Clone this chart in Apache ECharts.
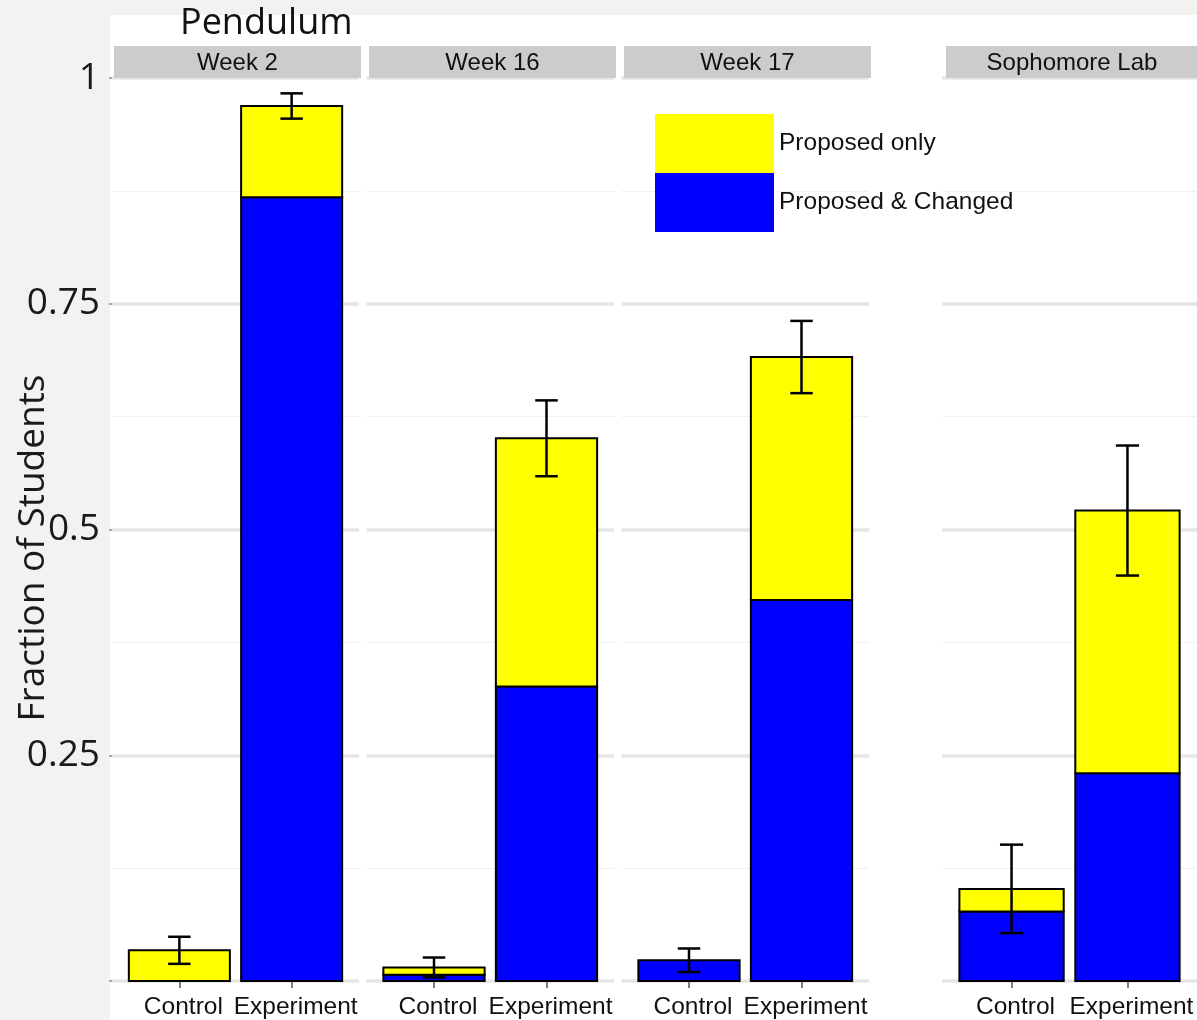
<!DOCTYPE html>
<html>
<head>
<meta charset="utf-8">
<script src="https://cdn.jsdelivr.net/npm/echarts@6/dist/echarts.min.js"></script>
<style>
  html, body { margin: 0; padding: 0; background: #f2f2f1; }
  #chart { width: 1197px; height: 1020px; }
</style>
</head>
<body>
<div id="chart"></div>
<script>
// Facet titles and the two groups in every facet
const panels = ['Week 2', 'Week 16', 'Week 17', 'Sophomore Lab'];
const groups = ['Control', 'Experiment'];

// Fraction of students per facet: [Control, Experiment]
const proposedChanged = [
  [0.000, 0.868],
  [0.007, 0.326],
  [0.023, 0.422],
  [0.077, 0.230]
];
const proposedOnly = [
  [0.034, 0.101],
  [0.008, 0.275],
  [0.000, 0.269],
  [0.025, 0.291]
];
// Half-width of the error bar around the stacked total
const errorHalf = [
  [0.015, 0.014],
  [0.011, 0.042],
  [0.013, 0.040],
  [0.049, 0.072]
];

const yTicks = [0, 0.25, 0.5, 0.75, 1];
const yTickLabels = ['', '0.25', '0.5', '0.75', '1'];

const seriesNames = ['Proposed only', 'Proposed & Changed'];
const YELLOW = '#ffff00';
const BLUE = '#0000ff';

// Facet geometry (pixels)
const gridBoxes = [
  { left: 112, width: 247 },
  { left: 366.5, width: 247.5 },
  { left: 621.5, width: 247.5 },
  { left: 942, width: 255.6 }
];
const stripBoxes = [
  { x: 114, w: 247 },
  { x: 369, w: 247 },
  { x: 624, w: 247 },
  { x: 946, w: 260 }
];
const GRID_TOP = 78, GRID_H = 904;
const BAR_W = 0.9, CAP_W = 0.2;
const TITLE_FONT = '"Open Sans", sans-serif';
const BODY_FONT = '"Liberation Sans", Arial, sans-serif';

const chart = echarts.init(document.getElementById('chart'));

function renderSegment(params, api) {
  const x = api.value(0), y0 = api.value(1), y1 = api.value(2);
  if (!(y1 - y0 > 0)) return;
  const a = api.coord([x - BAR_W / 2, y1]);
  const b = api.coord([x + BAR_W / 2, y0]);
  return {
    type: 'rect',
    shape: { x: a[0], y: a[1], width: b[0] - a[0], height: b[1] - a[1] },
    style: { fill: api.visual('color'), stroke: '#000', lineWidth: 2 }
  };
}

function renderError(params, api) {
  const x = api.value(0), lo = api.value(1), hi = api.value(2);
  const top = api.coord([x, hi]);
  const bot = api.coord([x, lo]);
  const l = api.coord([x - CAP_W / 2, hi])[0];
  const r = api.coord([x + CAP_W / 2, hi])[0];
  const st = { stroke: '#000', lineWidth: 2.5 };
  return {
    type: 'group',
    children: [
      { type: 'line', shape: { x1: top[0], y1: top[1], x2: bot[0], y2: bot[1] }, style: st },
      { type: 'line', shape: { x1: l, y1: top[1], x2: r, y2: top[1] }, style: st },
      { type: 'line', shape: { x1: l, y1: bot[1], x2: r, y2: bot[1] }, style: st }
    ]
  };
}

const grids = [], xAxes = [], yAxes = [], series = [];

panels.forEach((name, p) => {
  grids.push({ left: gridBoxes[p].left, width: gridBoxes[p].width, top: GRID_TOP, height: GRID_H });

  xAxes.push({
    type: 'value', gridIndex: p, min: 0.4, max: 2.6,
    axisLine: { show: false },
    splitLine: { show: false },
    axisTick: { show: true, customValues: [1, 2], length: 7, lineStyle: { color: '#7f7f7f', width: 2 } },
    axisLabel: {
      show: true, customValues: [1, 2], margin: 14,
      padding: [0, 0, 0, 8],
      formatter: v => groups[Math.round(v) - 1] || '',
      fontFamily: BODY_FONT, fontSize: 24.5, color: '#111'
    }
  });

  yAxes.push({
    type: 'value', gridIndex: p, min: 0, max: 1, interval: 0.25,
    axisLine: { show: false },
    axisTick: { show: p === 0, length: 3, lineStyle: { color: '#888', width: 1.5 } },
    axisLabel: {
      show: p === 0, margin: 12,
      formatter: v => yTickLabels[yTicks.indexOf(v)] ?? '',
      fontFamily: TITLE_FONT, fontSize: 37, color: '#1a1a1a'
    },
    splitLine: { show: true, lineStyle: { color: '#e6e6e6', width: 3.5 } },
    minorTick: { show: false, splitNumber: 2 },
    minorSplitLine: { show: true, lineStyle: { color: '#f0f0f0', width: 1 } }
  });

  const blueData = groups.map((g, i) => [i + 1, 0, proposedChanged[p][i]]);
  const yellowData = groups.map((g, i) => [i + 1, proposedChanged[p][i], proposedChanged[p][i] + proposedOnly[p][i]]);
  const errData = groups.map((g, i) => {
    const t = proposedChanged[p][i] + proposedOnly[p][i];
    return [i + 1, t - errorHalf[p][i], t + errorHalf[p][i]];
  });

  series.push({
    type: 'custom', name: seriesNames[1], xAxisIndex: p, yAxisIndex: p,
    itemStyle: { color: BLUE }, renderItem: renderSegment,
    encode: { x: 0, y: [1, 2] }, data: blueData, z: 3
  });
  series.push({
    type: 'custom', name: seriesNames[0], xAxisIndex: p, yAxisIndex: p,
    itemStyle: { color: YELLOW }, renderItem: renderSegment,
    encode: { x: 0, y: [1, 2] }, data: yellowData, z: 3
  });
  series.push({
    type: 'custom', name: 'error', xAxisIndex: p, yAxisIndex: p,
    itemStyle: { color: '#000' }, renderItem: renderError,
    encode: { x: 0, y: [1, 2] }, data: errData, z: 4
  });
});

const graphics = [
  // grey margin around the white plotting panel
  { type: 'rect', z: -10, shape: { x: 0, y: 0, width: 1197, height: 15 }, style: { fill: '#f2f2f1' } },
  { type: 'rect', z: -10, shape: { x: 0, y: 0, width: 110, height: 1020 }, style: { fill: '#f2f2f1' } },
  {
    type: 'text', z: 10, x: 180, y: 24,
    style: { text: 'Pendulum', fill: '#111', fontFamily: TITLE_FONT, fontSize: 36, align: 'left', verticalAlign: 'middle' }
  },
  {
    type: 'text', z: 10, x: 33, y: 548, rotation: Math.PI / 2,
    style: { text: 'Fraction of Students', fill: '#1a1a1a', fontFamily: TITLE_FONT, fontSize: 37, align: 'center', verticalAlign: 'middle' }
  }
];
panels.forEach((name, p) => {
  const s = stripBoxes[p];
  graphics.push({ type: 'rect', z: 5, shape: { x: s.x, y: 46, width: s.w, height: 32 }, style: { fill: '#cccccc' } });
  const cx = p === 3 ? s.x + 126 : s.x + s.w / 2;
  graphics.push({
    type: 'text', z: 6, x: cx, y: 63,
    style: { text: name, fill: '#111', fontFamily: BODY_FONT, fontSize: 24, align: 'center', verticalAlign: 'middle' }
  });
});

chart.setOption({
  backgroundColor: '#ffffff',
  animation: false,
  grid: grids,
  xAxis: xAxes,
  yAxis: yAxes,
  legend: {
    data: seriesNames,
    orient: 'vertical', left: 655, top: 114, padding: 0,
    itemWidth: 119, itemHeight: 59, itemGap: 0, icon: 'rect',
    itemStyle: { borderWidth: 0 },
    selectedMode: false,
    textStyle: { fontFamily: BODY_FONT, fontSize: 24.5, color: '#111' }
  },
  graphic: graphics,
  series: series
});
</script>
</body>
</html>
